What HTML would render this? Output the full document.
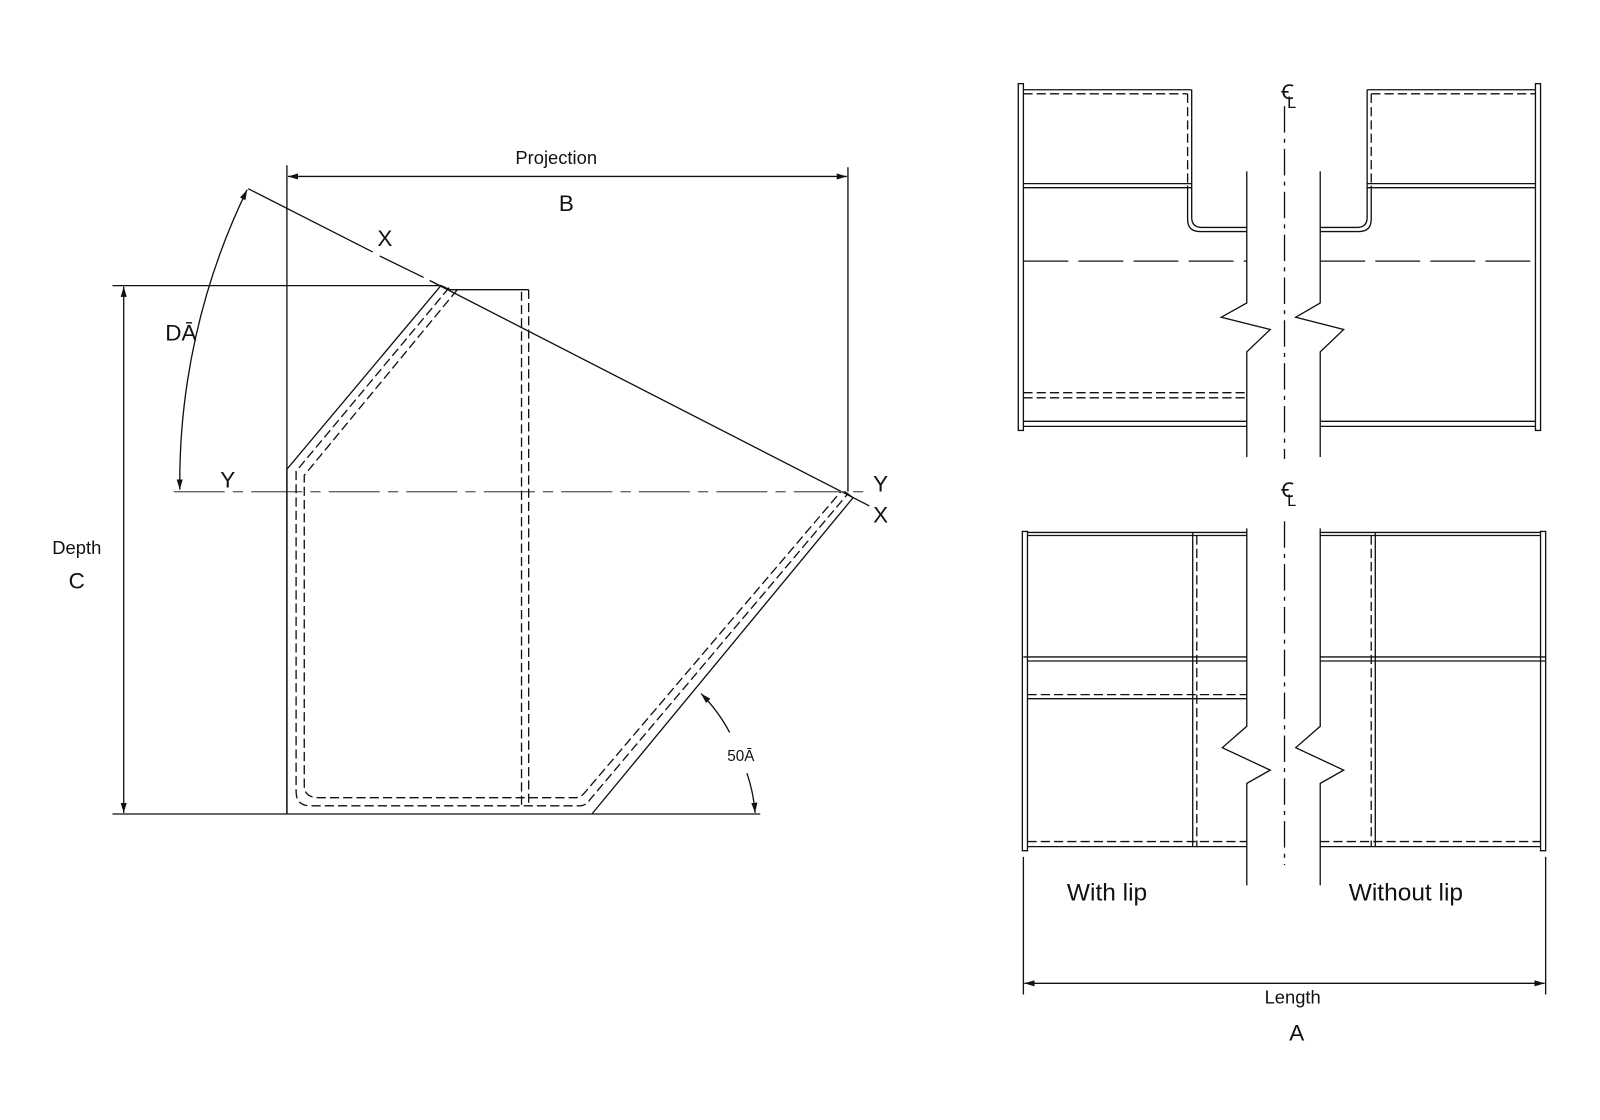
<!DOCTYPE html>
<html><head><meta charset="utf-8"><style>html,body{margin:0;padding:0;background:#fff;}svg{display:block}</style></head>
<body>
<svg width="1600" height="1120" viewBox="0 0 1568 1098" xmlns="http://www.w3.org/2000/svg" font-family="Liberation Sans, DejaVu Sans, sans-serif" fill="none" stroke="#111" stroke-width="1.3">
<defs>
<marker id="ar" viewBox="0 0 10 6" refX="10" refY="3" markerWidth="10" markerHeight="6" orient="auto-start-reverse" markerUnits="userSpaceOnUse"><path d="M0,0 L10,3 L0,6 z" fill="#111" stroke="none"/></marker>
</defs>
<g>
<line x1="281" y1="162" x2="281" y2="798"/>
<line x1="831" y1="164" x2="831" y2="482"/>
<line x1="282" y1="173" x2="830" y2="173" marker-start="url(#ar)" marker-end="url(#ar)"/>
<line x1="110" y1="280" x2="432" y2="280"/>
<line x1="110" y1="798" x2="745" y2="798"/>
<line x1="121" y1="281" x2="121" y2="797" marker-start="url(#ar)" marker-end="url(#ar)"/>
<line x1="243" y1="185" x2="365" y2="247"/>
<line x1="372" y1="251" x2="415" y2="272"/>
<line x1="421" y1="275" x2="852" y2="496"/>
<line x1="170" y1="482" x2="850" y2="482" stroke="#666" stroke-dasharray="50,8,10,8"/>
<path d="M281,798 L281,460 L432,280 L441,284 L518,284"/>
<path d="M580,798 L836,488 L828,482"/>
<line x1="511" y1="286" x2="511" y2="790" stroke-dasharray="9,4"/>
<line x1="518" y1="284" x2="518" y2="790" stroke-dasharray="9,4"/>
<path d="M440,282 L290,462 L290,776 Q290,790 304,790 L568,790 Q574,790 578,784 L831,484" stroke-dasharray="9,4"/>
<path d="M448,284 L298,466 L298,770 Q298,782 312,782 L564,782 Q569,782 573,777 L824,482" stroke-dasharray="9,4"/>
<path d="M242,186 A655,655 0 0 0 176,480" marker-start="url(#ar)" marker-end="url(#ar)"/>
<path d="M687,680 A160,160 0 0 1 715,718" marker-start="url(#ar)"/>
<path d="M732,758 A160,160 0 0 1 740,797" marker-end="url(#ar)"/>
</g>
<g fill="#111" stroke="none">
<text x="545" y="161" font-size="18" text-anchor="middle">Projection</text>
<text x="555" y="207" font-size="22" text-anchor="middle">B</text>
<text x="377" y="241" font-size="22" text-anchor="middle">X</text>
<text x="177" y="334" font-size="22" text-anchor="middle">DĀ</text>
<text x="223" y="478" font-size="22" text-anchor="middle">Y</text>
<text x="863" y="482" font-size="22" text-anchor="middle">Y</text>
<text x="863" y="512" font-size="22" text-anchor="middle">X</text>
<text x="75" y="543" font-size="18" text-anchor="middle">Depth</text>
<text x="75" y="577" font-size="22" text-anchor="middle">C</text>
<text x="726" y="746" font-size="15" text-anchor="middle">50Ā</text>
</g>

<g>
<rect x="998" y="82" width="5" height="340"/>
<rect x="1505" y="82" width="5" height="340"/>
<line x1="1003" y1="88" x2="1168" y2="88"/>
<line x1="1003" y1="92" x2="1164" y2="92" stroke-dasharray="9,4"/>
<line x1="1164" y1="92" x2="1164" y2="182" stroke-dasharray="9,4"/>
<path d="M1168,88 L1168,213 Q1168,223 1178,223 L1222,223"/>
<path d="M1164,182 L1164,215 Q1164,227 1176,227 L1222,227"/>
<line x1="1003" y1="180" x2="1168" y2="180"/>
<line x1="1003" y1="184" x2="1168" y2="184"/>
<line x1="1003" y1="256" x2="1222" y2="256" stroke-dasharray="44,10"/>
<line x1="1294" y1="256" x2="1505" y2="256" stroke-dasharray="44,10"/>
<line x1="1003" y1="385" x2="1222" y2="385" stroke-dasharray="9,4"/>
<line x1="1003" y1="390" x2="1222" y2="390" stroke-dasharray="9,4"/>
<line x1="1003" y1="413" x2="1222" y2="413"/>
<line x1="1003" y1="418" x2="1222" y2="418"/>
<line x1="1294" y1="413" x2="1505" y2="413"/>
<line x1="1294" y1="418" x2="1505" y2="418"/>
<path d="M1222,168 L1222,297 L1197,311 L1245,323 L1222,345 L1222,448"/>
<path d="M1294,168 L1294,297 L1270,311 L1317,323 L1294,345 L1294,448"/>
<line x1="1259" y1="104" x2="1259" y2="450" stroke-dasharray="26,6,4,6"/>
<line x1="1340" y1="88" x2="1505" y2="88"/>
<line x1="1344" y1="92" x2="1505" y2="92" stroke-dasharray="9,4"/>
<line x1="1344" y1="92" x2="1344" y2="182" stroke-dasharray="9,4"/>
<path d="M1340,88 L1340,213 Q1340,223 1330,223 L1294,223"/>
<path d="M1344,182 L1344,215 Q1344,227 1332,227 L1294,227"/>
<line x1="1340" y1="180" x2="1505" y2="180"/>
<line x1="1340" y1="184" x2="1505" y2="184"/>
</g>

<g>
<rect x="1002" y="521" width="5" height="313"/>
<rect x="1510" y="521" width="5" height="313"/>
<line x1="1007" y1="522" x2="1222" y2="522"/>
<line x1="1007" y1="525" x2="1222" y2="525"/>
<line x1="1294" y1="522" x2="1510" y2="522"/>
<line x1="1294" y1="525" x2="1510" y2="525"/>
<line x1="1003" y1="644" x2="1222" y2="644"/>
<line x1="1007" y1="648" x2="1222" y2="648"/>
<line x1="1294" y1="644" x2="1515" y2="644"/>
<line x1="1294" y1="648" x2="1515" y2="648"/>
<line x1="1007" y1="681" x2="1222" y2="681" stroke-dasharray="9,4"/>
<line x1="1007" y1="685" x2="1222" y2="685"/>
<line x1="1169" y1="522" x2="1169" y2="830"/>
<line x1="1173" y1="525" x2="1173" y2="830" stroke-dasharray="9,4"/>
<line x1="1344" y1="525" x2="1344" y2="830" stroke-dasharray="9,4"/>
<line x1="1348" y1="522" x2="1348" y2="830"/>
<line x1="1007" y1="825" x2="1222" y2="825" stroke-dasharray="9,4"/>
<line x1="1007" y1="830" x2="1222" y2="830"/>
<line x1="1294" y1="825" x2="1510" y2="825" stroke-dasharray="9,4"/>
<line x1="1294" y1="830" x2="1510" y2="830"/>
<path d="M1222,518 L1222,712 L1198,733 L1245,755 L1222,768 L1222,868"/>
<path d="M1294,518 L1294,712 L1270,733 L1317,755 L1294,768 L1294,868"/>
<line x1="1259" y1="511" x2="1259" y2="848" stroke-dasharray="26,6,4,6"/>
<line x1="1003" y1="840" x2="1003" y2="975"/>
<line x1="1515" y1="840" x2="1515" y2="975"/>
<line x1="1004" y1="964" x2="1514" y2="964" marker-start="url(#ar)" marker-end="url(#ar)"/>
</g>
<g fill="#111" stroke="none">
<text x="1262" y="97" font-size="20" text-anchor="middle">Ꞓ</text>
<text x="1266" y="106" font-size="16" text-anchor="middle">L</text>
<text x="1262" y="487" font-size="20" text-anchor="middle">Ꞓ</text>
<text x="1266" y="496" font-size="16" text-anchor="middle">L</text>
<text x="1085" y="883" font-size="24" text-anchor="middle">With lip</text>
<text x="1378" y="883" font-size="24" text-anchor="middle">Without lip</text>
<text x="1267" y="984" font-size="18" text-anchor="middle">Length</text>
<text x="1271" y="1020" font-size="22" text-anchor="middle">A</text>
</g>
</svg>
</body></html>
